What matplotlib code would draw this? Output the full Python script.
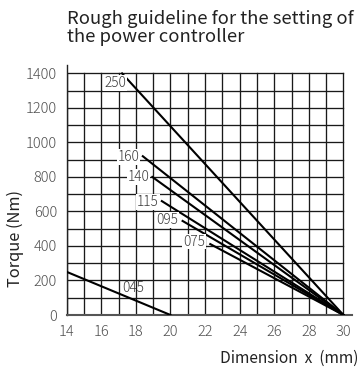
import matplotlib
matplotlib.use("Agg")
import matplotlib.pyplot as plt

plt.rcParams['font.family'] = ['Noto Sans CJK JP', 'DejaVu Sans']

# Data: each line runs from (x_start, torque_start) to (x_end, torque_end)
labels = ["250", "160", "140", "115", "095", "075", "045"]
x_start = [17.2, 18.4, 18.95, 19.5, 20.7, 22.3, 14.0]
t_start = [1400, 920, 800, 660, 545, 411, 250]
x_end = [30, 30, 30, 30, 30, 30, 20]
t_end = [0, 0, 0, 0, 0, 0, 0]
label_x = [16.8, 17.56, 18.14, 18.7, 19.82, 21.36, 17.85]
label_y = [1345, 917, 801, 656, 550, 425, 155]

xticks = [14, 16, 18, 20, 22, 24, 26, 28, 30]
yticks = [0, 200, 400, 600, 800, 1000, 1200, 1400]

fig = plt.figure(figsize=(3.59, 3.68), dpi=100)
ax = fig.add_axes([0.1858, 0.144, 0.795, 0.680])
ax.set_xlim(14, 30.5)
ax.set_ylim(0, 1450)

# grid lines bounded to data range
for gx in range(14, 31):
    ax.plot([gx, gx], [0, 1400], color='#1a1a1a', lw=0.95, zorder=1)
for gy in range(0, 1401, 100):
    ax.plot([14, 30], [gy, gy], color='#1a1a1a', lw=0.95, zorder=1)

for xs, ts, xe, te in zip(x_start, t_start, x_end, t_end):
    ax.plot([xs, xe], [ts, te], color='black', lw=1.5, zorder=3)

for lab, lx, ly in zip(labels, label_x, label_y):
    bbox = dict(facecolor='white', edgecolor='none', pad=0.6) if lab != "045" else None
    ax.text(lx, ly, lab, fontsize=9.8, ha='center', va='center', color='#3a3a3a',
            fontweight='light', bbox=bbox, zorder=4)

ax.set_xticks(xticks)
ax.set_yticks(yticks)
ax.tick_params(length=0, labelsize=10.5, colors='#505050', pad=7)
for t in ax.get_xticklabels() + ax.get_yticklabels():
    t.set_fontweight('light')
for s in ['top', 'right']:
    ax.spines[s].set_visible(False)
ax.spines['left'].set_color('#222222')
ax.spines['bottom'].set_color('#555555')
ax.spines['left'].set_linewidth(1.0)
ax.spines['bottom'].set_linewidth(1.5)

fig.text(0.042, 0.353, "Torque (Nm)", rotation=90, fontsize=11.8, ha='center', va='center', color='#222222')
fig.text(0.997, 0.027, "Dimension  x  (mm)", fontsize=11.2, ha='right', va='center', color='#222222')
fig.text(0.186, 0.973, "Rough guideline for the setting of\nthe power controller", fontsize=13.3,
         ha='left', va='top', color='#222222', linespacing=0.97)

fig.savefig("out.png", dpi=100)
